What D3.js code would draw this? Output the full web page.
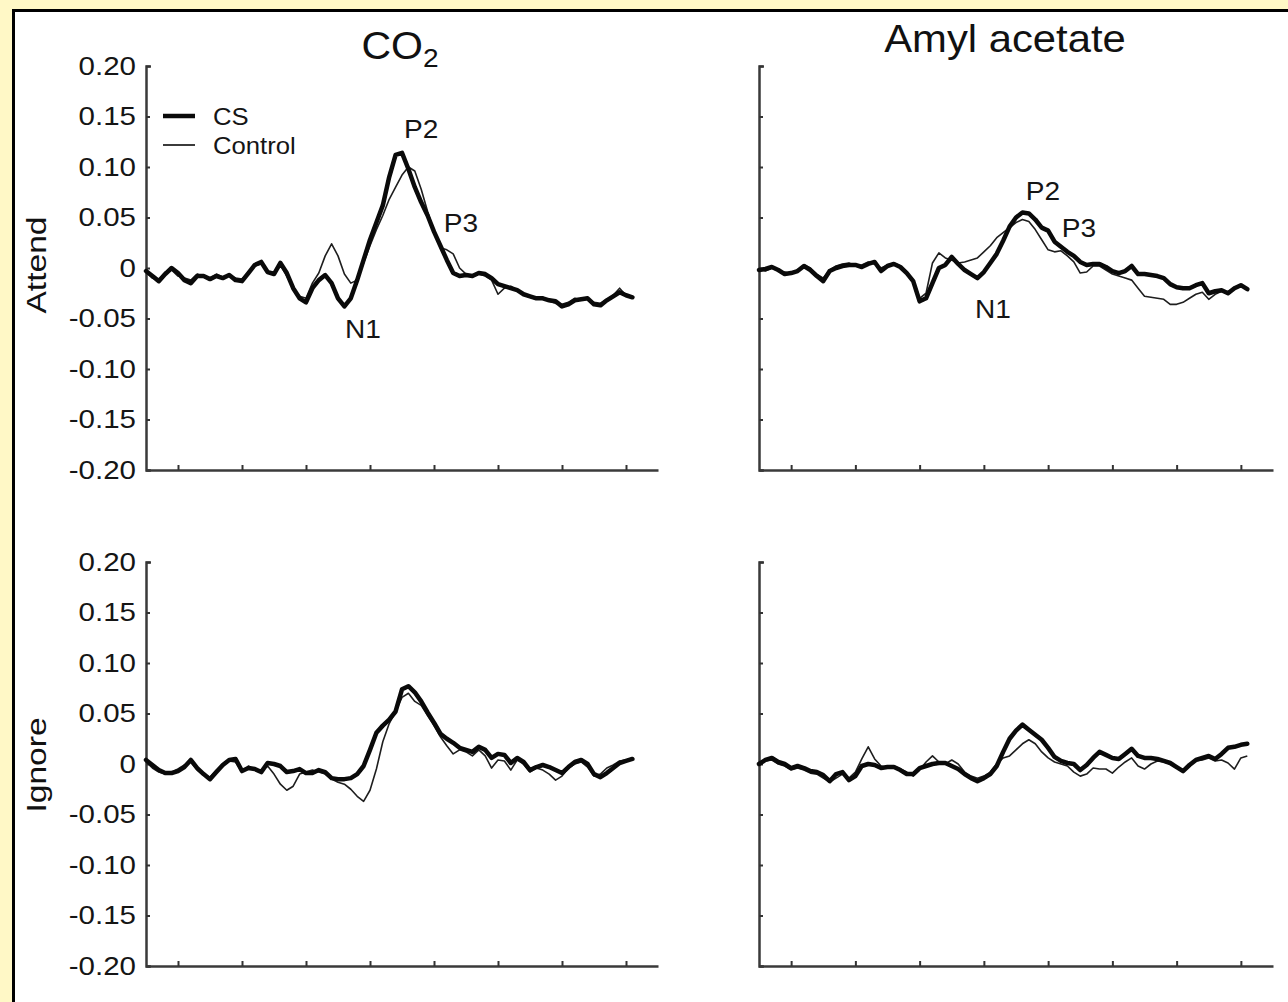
<!DOCTYPE html>
<html>
<head>
<meta charset="utf-8">
<script src="https://cdnjs.cloudflare.com/ajax/libs/d3/7.8.5/d3.min.js"></script>
<style>
  body { margin: 0; background: #fff8c6; }
  svg { display: block; font-family: "Liberation Sans", Arial, sans-serif; }
</style>
</head>
<body>
<svg id="chart" width="1288" height="1002"></svg>
<script>
// sample times (ms), one value per trace at each of them
var times = [0,10,20,30,40,50,60,70,80,90,100,110,120,130,140,150,160,170,180,190,
  200,210,220,230,240,250,260,270,280,290,300,310,320,330,340,350,360,370,380,390,
  400,410,420,430,440,450,460,470,480,490,500,510,520,530,540,550,560,570,580,590,
  600,610,620,630,640,650,660,670,680,690,700,710,720,730,740,750,760];

var xTicks = [50, 150, 250, 350, 450, 550, 650, 750];
var yTicks = [-0.20, -0.15, -0.10, -0.05, 0, 0.05, 0.10, 0.15, 0.20];

var columns = ["CO", "Amyl acetate"];
var rows = ["Attend", "Ignore"];

// CO2 / Attend
var co2AttendCS = [-0.003,-0.008,-0.013,-0.006,0.000,-0.005,-0.012,-0.015,-0.008,-0.008,
  -0.011,-0.008,-0.010,-0.007,-0.012,-0.013,-0.005,0.003,0.006,-0.004,
  -0.006,0.005,-0.005,-0.020,-0.030,-0.034,-0.020,-0.012,-0.007,-0.015,
  -0.030,-0.038,-0.030,-0.012,0.008,0.028,0.045,0.062,0.090,0.112,
  0.114,0.098,0.080,0.065,0.052,0.036,0.022,0.008,-0.005,-0.008,
  -0.007,-0.008,-0.005,-0.006,-0.010,-0.016,-0.018,-0.020,-0.022,-0.026,
  -0.028,-0.030,-0.030,-0.032,-0.033,-0.038,-0.036,-0.032,-0.031,-0.030,
  -0.036,-0.037,-0.032,-0.028,-0.024,-0.027,-0.029];
var co2AttendControl = [-0.004,-0.010,-0.012,-0.004,-0.002,-0.008,-0.010,-0.012,-0.006,-0.009,
  -0.010,-0.006,-0.009,-0.008,-0.010,-0.011,-0.004,0.002,0.004,-0.003,
  -0.004,0.003,-0.008,-0.020,-0.028,-0.030,-0.015,-0.005,0.012,0.024,
  0.012,-0.006,-0.015,-0.012,0.005,0.022,0.038,0.052,0.068,0.080,
  0.092,0.100,0.096,0.078,0.056,0.036,0.020,0.018,0.014,0.000,
  -0.006,-0.008,-0.006,-0.008,-0.012,-0.026,-0.020,-0.018,-0.022,-0.027,
  -0.029,-0.031,-0.029,-0.033,-0.035,-0.036,-0.034,-0.030,-0.032,-0.031,
  -0.034,-0.035,-0.031,-0.027,-0.020,-0.027,-0.028];

// CO2 / Ignore
var co2IgnoreCS = [0.004,-0.001,-0.006,-0.009,-0.009,-0.007,-0.003,0.004,-0.004,-0.010,
  -0.015,-0.008,-0.001,0.004,0.005,-0.007,-0.004,-0.005,-0.008,0.001,
  0.000,-0.002,-0.008,-0.007,-0.005,-0.009,-0.009,-0.006,-0.008,-0.014,
  -0.015,-0.015,-0.014,-0.010,-0.002,0.014,0.031,0.038,0.044,0.052,
  0.074,0.077,0.071,0.062,0.051,0.041,0.030,0.025,0.021,0.016,
  0.014,0.012,0.017,0.014,0.006,0.010,0.009,0.001,0.006,0.002,
  -0.006,-0.003,-0.001,-0.003,-0.006,-0.009,-0.003,0.002,0.004,0.000,
  -0.010,-0.013,-0.009,-0.004,0.001,0.003,0.005];
var co2IgnoreControl = [0.002,-0.004,-0.008,-0.010,-0.008,-0.005,-0.001,0.002,-0.006,-0.011,
  -0.013,-0.006,0.000,0.003,0.002,-0.008,-0.002,-0.006,-0.006,-0.002,
  -0.010,-0.020,-0.026,-0.022,-0.010,-0.008,-0.006,-0.008,-0.010,-0.015,
  -0.018,-0.020,-0.025,-0.032,-0.037,-0.026,-0.005,0.022,0.040,0.052,
  0.066,0.070,0.062,0.058,0.048,0.038,0.027,0.018,0.010,0.014,
  0.012,0.008,0.014,0.008,-0.004,0.004,0.003,-0.006,0.004,0.000,
  -0.008,-0.004,-0.006,-0.010,-0.016,-0.012,-0.004,0.000,0.002,-0.003,
  -0.012,-0.010,-0.004,-0.001,0.003,0.004,0.006];

// Amyl acetate / Attend
var amylAttendCS = [-0.002,-0.001,0.001,-0.002,-0.006,-0.005,-0.003,0.002,-0.002,-0.008,
  -0.013,-0.003,0.000,0.002,0.003,0.003,0.001,0.004,0.006,-0.003,
  0.002,0.004,0.001,-0.005,-0.013,-0.033,-0.030,-0.015,0.000,0.003,
  0.011,0.004,-0.002,-0.006,-0.010,-0.004,0.005,0.014,0.027,0.041,
  0.050,0.055,0.054,0.048,0.040,0.037,0.026,0.021,0.016,0.012,
  0.006,0.003,0.004,0.004,0.001,-0.003,-0.005,-0.003,0.002,-0.006,
  -0.006,-0.007,-0.008,-0.010,-0.016,-0.019,-0.020,-0.020,-0.017,-0.015,
  -0.025,-0.023,-0.022,-0.025,-0.020,-0.017,-0.021];
var amylAttendControl = [-0.001,-0.003,0.000,-0.003,-0.004,-0.006,-0.002,0.003,0.000,-0.006,
  -0.010,-0.002,0.002,0.004,0.005,0.002,0.003,0.006,0.004,0.000,
  0.003,0.005,0.002,-0.004,-0.012,-0.030,-0.025,0.005,0.015,0.010,
  0.008,0.005,0.006,0.008,0.010,0.016,0.022,0.030,0.035,0.040,
  0.045,0.048,0.046,0.038,0.028,0.018,0.016,0.017,0.012,0.006,
  -0.005,-0.004,0.002,0.002,-0.002,-0.006,-0.008,-0.010,-0.012,-0.020,
  -0.028,-0.029,-0.030,-0.031,-0.036,-0.036,-0.034,-0.030,-0.026,-0.024,
  -0.031,-0.026,-0.023,-0.024,-0.019,-0.018,-0.021];

// Amyl acetate / Ignore
var amylIgnoreCS = [0.000,0.004,0.006,0.002,0.000,-0.004,-0.002,-0.004,-0.007,-0.008,
  -0.011,-0.017,-0.010,-0.008,-0.016,-0.012,-0.002,0.000,-0.001,-0.004,
  -0.003,-0.003,-0.006,-0.010,-0.010,-0.004,-0.002,0.000,0.001,0.001,
  -0.002,-0.005,-0.010,-0.014,-0.017,-0.014,-0.010,-0.002,0.012,0.025,
  0.033,0.039,0.034,0.029,0.024,0.016,0.007,0.003,0.001,0.000,
  -0.006,-0.001,0.006,0.012,0.009,0.006,0.005,0.010,0.015,0.008,
  0.006,0.006,0.005,0.003,0.001,-0.003,-0.007,-0.001,0.004,0.006,
  0.008,0.005,0.010,0.016,0.017,0.019,0.020];
var amylIgnoreControl = [0.002,0.003,0.004,0.000,-0.002,-0.006,-0.004,-0.006,-0.009,-0.010,
  -0.014,-0.018,-0.014,-0.010,-0.014,-0.008,0.005,0.017,0.005,-0.002,
  -0.004,-0.002,-0.005,-0.008,-0.012,-0.006,0.002,0.008,0.002,0.000,
  0.004,0.000,-0.008,-0.012,-0.014,-0.012,-0.008,0.000,0.006,0.008,
  0.014,0.020,0.024,0.020,0.012,0.006,0.002,0.000,-0.002,-0.008,
  -0.012,-0.010,-0.004,-0.005,-0.005,-0.009,-0.003,0.002,0.006,-0.002,
  -0.005,0.000,0.003,0.002,0.000,-0.004,-0.006,0.000,0.003,0.004,
  0.006,0.003,0.004,0.001,-0.005,0.006,0.008];

// peak labels: panel index, text, time, value
var peakLabels = [
  [0, "P2", 430, 0.138], [0, "P3", 492, 0.045], [0, "N1", 339, -0.060],
  [1, "P2", 442, 0.076], [1, "P3", 498, 0.040], [1, "N1", 364, -0.040]
];

var panels = [
  {col: 0, row: 0, cs: co2AttendCS, control: co2AttendControl},
  {col: 1, row: 0, cs: amylAttendCS, control: amylAttendControl},
  {col: 0, row: 1, cs: co2IgnoreCS, control: co2IgnoreControl},
  {col: 1, row: 1, cs: amylIgnoreCS, control: amylIgnoreControl}
];

var colRange = [[146, 658], [759, 1273]],
    rowRange = [[470, 66], [966, 562]];

var svg = d3.select("#chart");

// white sheet with black frame
svg.append("rect")
    .attr("x", 13.5).attr("y", 10.5)
    .attr("width", 1300).attr("height", 1000)
    .attr("fill", "#fff")
    .attr("stroke", "#000")
    .attr("stroke-width", 3);

function fmt(v) {
  if (Math.abs(v) < 1e-9) return "0";
  return (v < 0 ? "-" : "") + Math.abs(v).toFixed(2);
}

var stretch = 1.18;

panels.forEach(function(p, k) {
  var x = d3.scaleLinear().domain([0, 800]).range(colRange[p.col]),
      y = d3.scaleLinear().domain([-0.2, 0.2]).range(rowRange[p.row]);

  var g = svg.append("g");

  var yAxis = g.append("g")
      .attr("transform", "translate(" + x.range()[0] + ",0)")
      .call(d3.axisLeft(y)
        .tickValues(yTicks)
        .tickSizeInner(-4)
        .tickSizeOuter(-5)
        .tickPadding(10)
        .tickFormat(p.col === 0 ? fmt : ""));

  var xAxis = g.append("g")
      .attr("transform", "translate(0," + y.range()[0] + ")")
      .call(d3.axisBottom(x)
        .tickValues(xTicks)
        .tickSizeInner(-5)
        .tickSizeOuter(0)
        .tickFormat(""));

  g.selectAll(".domain")
      .attr("stroke", "#3a3a3a")
      .attr("stroke-width", 2.5);
  g.selectAll(".tick line")
      .attr("stroke", "#333")
      .attr("stroke-width", 2);

  yAxis.selectAll(".tick text")
      .attr("font-size", 25)
      .attr("fill", "#151515")
      .attr("font-family", "Liberation Sans, Arial, sans-serif")
      .attr("x", -10 / stretch)
      .attr("transform", "scale(" + stretch + ",1)");

  var line = d3.line()
      .x(function(d, i) { return x(times[i]); })
      .y(function(d) { return y(d); });

  g.append("path")
      .datum(p.control)
      .attr("fill", "none")
      .attr("stroke", "#1e1e1e")
      .attr("stroke-width", 1.6)
      .attr("stroke-linejoin", "round")
      .attr("d", line);

  g.append("path")
      .datum(p.cs)
      .attr("fill", "none")
      .attr("stroke", "#0a0a0a")
      .attr("stroke-width", 4.5)
      .attr("stroke-linejoin", "round")
      .attr("stroke-linecap", "round")
      .attr("d", line);

  peakLabels.filter(function(a) { return a[0] === k; }).forEach(function(a) {
    g.append("text")
        .attr("transform", "translate(" + x(a[2]) + "," + y(a[3]) + ") scale(1.08,1)")
        .attr("text-anchor", "middle")
        .attr("dy", "0.35em")
        .attr("font-size", 26)
        .attr("fill", "#151515")
        .text(a[1]);
  });

  // legend in first panel
  if (k === 0) {
    var lx = x.range()[0] + 17;
    var items = [["CS", 4.5, 116], ["Control", 1.6, 145]];
    items.forEach(function(it) {
      g.append("line")
          .attr("x1", lx).attr("x2", lx + 32)
          .attr("y1", it[2]).attr("y2", it[2])
          .attr("stroke", "#0a0a0a")
          .attr("stroke-width", it[1]);
      g.append("text")
          .attr("transform", "translate(" + (lx + 50) + "," + it[2] + ") scale(1.07,1)")
          .attr("dy", "0.36em")
          .attr("font-size", 24)
          .attr("fill", "#151515")
          .text(it[0]);
    });
  }
});

// column titles
var t0 = svg.append("text")
    .attr("transform", "translate(400,59) scale(1.08,1)")
    .attr("text-anchor", "middle")
    .attr("font-size", 38)
    .attr("fill", "#111");
t0.append("tspan").text(columns[0]);
t0.append("tspan").attr("font-size", 26).attr("dy", 8).text("2");

svg.append("text")
    .attr("transform", "translate(1005,52) scale(1.1,1)")
    .attr("text-anchor", "middle")
    .attr("font-size", 38)
    .attr("fill", "#111")
    .text(columns[1]);

// row labels
var rowCenters = [265, 765];
rows.forEach(function(r, i) {
  svg.append("text")
      .attr("transform", "translate(46," + rowCenters[i] + ") rotate(-90) scale(1.2,1)")
      .attr("text-anchor", "middle")
      .attr("font-size", 28)
      .attr("fill", "#111")
      .text(r);
});
</script>
</body>
</html>
